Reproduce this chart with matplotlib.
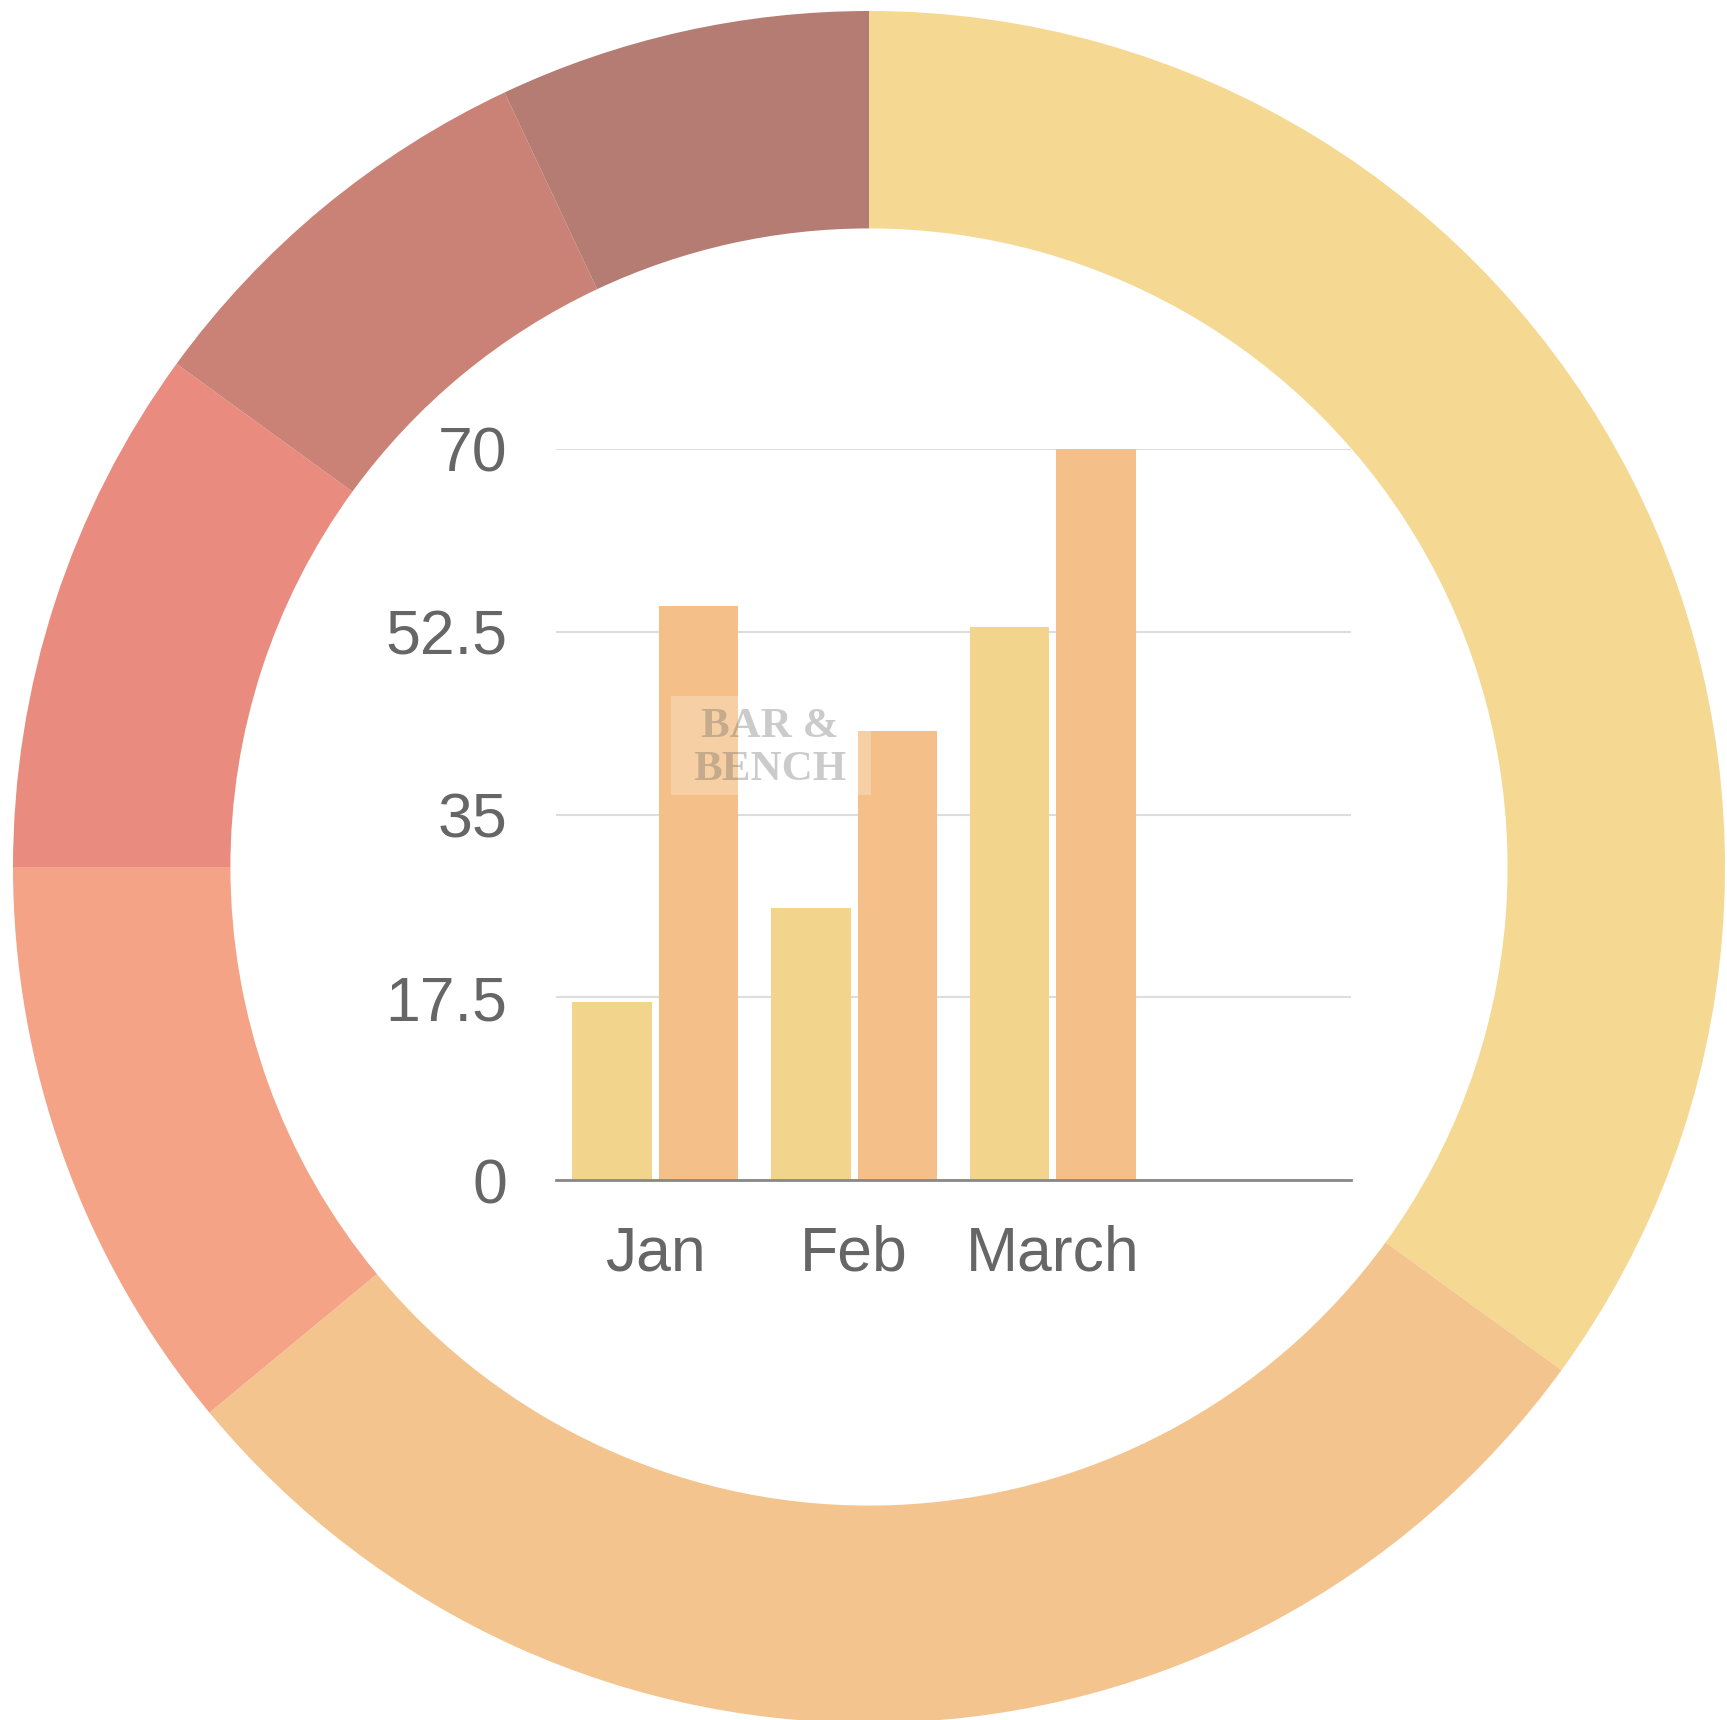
import matplotlib
matplotlib.use("Agg")
import matplotlib.pyplot as plt
import numpy as np

# Donut data (clockwise from 12 o'clock)
donut_values = [35, 29, 11, 10, 8, 7]
donut_colors = ["#F5D892", "#F4C48E", "#F4A387", "#E98C7F", "#CB8276", "#B47C72"]

# Bar data
categories = ["Jan", "Feb", "March", ""]
series_a = [17, 26, 53, None]
series_b = [55, 43, 70, None]
yticks = [0, 17.5, 35, 52.5, 70]
yticklabels = ["0", "17.5", "35", "52.5", "70"]
bar_colors = ["#F2D48C", "#F4BF88"]

plt.rcParams['font.family'] = ['Liberation Sans', 'DejaVu Sans']

W, H = 1727, 1720
fig = plt.figure(figsize=(W / 100, H / 100), dpi=100)
fig.patch.set_facecolor("white")

# Donut axes in pixel coordinates
ax_d = fig.add_axes([0, 0, 1, 1])
R = 856
ax_d.pie(donut_values, colors=donut_colors, startangle=90, counterclock=False,
         center=(869, H - 867), radius=R,
         wedgeprops=dict(width=R * 0.254, linewidth=0), frame=True)
ax_d.set_xlim(0, W)
ax_d.set_ylim(0, H)
ax_d.set_aspect("equal")
ax_d.axis("off")

# Bar axes
ax = fig.add_axes([556 / W, (H - 1180) / H, (1351 - 556) / W, 731 / H])
ax.patch.set_alpha(0)
x = np.arange(len(categories))
a_x = [xi - 0.218 for xi, v in zip(x, series_a) if v is not None]
a_v = [v for v in series_a if v is not None]
b_x = [xi + 0.218 for xi, v in zip(x, series_b) if v is not None]
b_v = [v for v in series_b if v is not None]
ax.bar(a_x, a_v, width=0.4, color=bar_colors[0], zorder=3)
ax.bar(b_x, b_v, width=0.4, color=bar_colors[1], zorder=3)
ax.set_xlim(-0.5, len(categories) - 0.5)
ax.set_ylim(0, 70)
ax.set_yticks(yticks)
ax.set_yticklabels(yticklabels)
ax.set_xticks(x)
ax.set_xticklabels(categories)
ax.tick_params(axis="y", length=0, pad=35, labelsize=45, labelcolor="#666666")
ax.tick_params(axis="x", length=0, pad=32, labelsize=45, labelcolor="#666666")
ax.grid(axis="y", color="#DDDDDD", linewidth=1.5, zorder=0)
for s in ["top", "right", "left"]:
    ax.spines[s].set_visible(False)
ax.spines["bottom"].set_color("#888888")
ax.spines["bottom"].set_linewidth(2)
ax.spines["bottom"].set_zorder(4)

# Faint watermark
fig.patches.append(plt.Rectangle((671 / W, (H - 795) / H), 200 / W, 99 / H,
                                 transform=fig.transFigure, facecolor="white",
                                 alpha=0.25, edgecolor="none", zorder=5))
fig.text(770 / W, (H - 727) / H, "BAR &", fontsize=31, fontweight="bold",
         family=["Liberation Serif", "DejaVu Serif"], color="#555555", alpha=0.3,
         ha="center", va="center", zorder=6)
fig.text(770 / W, (H - 770) / H, "BENCH", fontsize=31, fontweight="bold",
         family=["Liberation Serif", "DejaVu Serif"], color="#555555", alpha=0.3,
         ha="center", va="center", zorder=6)

fig.savefig("out.png", dpi=100, facecolor="white")
